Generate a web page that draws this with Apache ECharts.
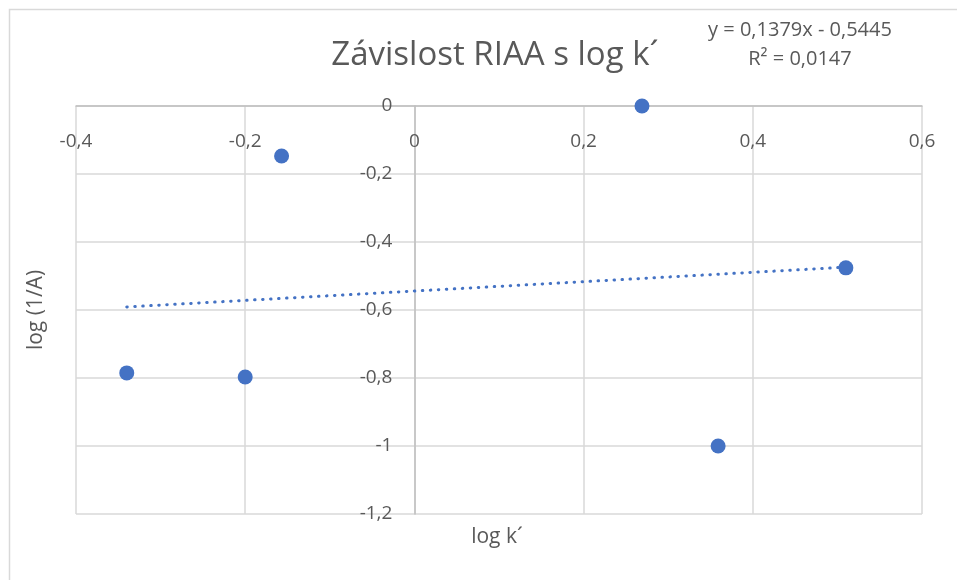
<!DOCTYPE html>
<html>
<head>
<meta charset="utf-8">
<script src="https://cdn.jsdelivr.net/npm/echarts@6/dist/echarts.min.js"></script>
<style>
  html, body { margin: 0; padding: 0; background: #fff; }
  #chart { width: 957px; height: 580px; }
</style>
</head>
<body>
<div id="chart"></div>
<script>
  var logK = [-0.34, -0.2, -0.157, 0.269, 0.359, 0.51];
  var logInvA = [-0.785, -0.797, -0.147, 0, -1.0, -0.476];
  // trendline end points (y = 0,1379x - 0,5445 at the data extremes)
  var trendX = [-0.34, 0.51];
  var trendY = [-0.591, -0.474];
  var xTicks = [-0.4, -0.2, 0, 0.2, 0.4, 0.6];
  var yTicks = [0, -0.2, -0.4, -0.6, -0.8, -1, -1.2];

  var font = "'Open Sans', 'Noto Sans', sans-serif";
  var textColor = "#595959";
  var gridLeft = 76, gridRight = 35;
  var gridWidth = 957 - gridLeft - gridRight;

  function fmt(v) {
    return String(Math.round(v * 10) / 10).replace(".", ",");
  }

  var xMin = xTicks[0], xMax = xTicks[xTicks.length - 1];
  // y axis sits where x = 0, so pull it inward from the left edge
  var yAxisOffset = -gridWidth * (0 - xMin) / (xMax - xMin);

  var chart = echarts.init(document.getElementById("chart"), null, { renderer: "canvas" });

  chart.setOption({
    backgroundColor: "#ffffff",
    animation: false,
    textStyle: { fontFamily: font },
    grid: { left: gridLeft, right: gridRight, top: 106, bottom: 66, show: false },
    xAxis: {
      type: "value",
      position: "top",
      min: xMin,
      max: xMax,
      interval: 0.2,
      axisLine: { onZero: false, lineStyle: { color: "#bfbfbf", width: 1.5 } },
      axisTick: { show: false },
      axisLabel: {
        inside: true,
        color: textColor, fontSize: 19, margin: 26, fontFamily: font,
        formatter: function (v) { return fmt(v); }
      },
      splitLine: { lineStyle: { color: "#d9d9d9", width: 1.5 } }
    },
    yAxis: {
      type: "value",
      position: "left",
      offset: yAxisOffset,
      min: yTicks[yTicks.length - 1],
      max: yTicks[0],
      interval: 0.2,
      axisLine: { show: true, onZero: false, lineStyle: { color: "#bfbfbf", width: 1.5 } },
      axisTick: { show: false },
      axisLabel: {
        color: textColor, fontSize: 19, margin: 22, fontFamily: font,
        padding: [3, 0, 0, 0],
        formatter: function (v) { return fmt(v); }
      },
      splitLine: { lineStyle: { color: "#d9d9d9", width: 1.5 } }
    },
    graphic: [
      {
        type: "rect", left: 7, top: 7, silent: true,
        shape: { width: 1000, height: 650 },
        style: { fill: "none", stroke: "#d9d9d9", lineWidth: 1.5 }
      },
      {
        type: "text", x: 495, y: 56,
        style: {
          text: "Závislost RIAA s log k´", fill: textColor,
          font: "33px " + font, align: "center", verticalAlign: "middle"
        }
      },
      {
        type: "text", x: 800, y: 30,
        style: {
          text: "y = 0,1379x - 0,5445", fill: textColor,
          font: "20px " + font, align: "center", verticalAlign: "middle"
        }
      },
      {
        type: "text", x: 800, y: 59,
        style: {
          text: "R² = 0,0147", fill: textColor,
          font: "20px " + font, align: "center", verticalAlign: "middle"
        }
      },
      {
        type: "text", x: 497, y: 537,
        style: {
          text: "log k´", fill: textColor,
          font: "21px " + font, align: "center", verticalAlign: "middle"
        }
      },
      {
        type: "text", x: 36, y: 310, rotation: Math.PI / 2,
        style: {
          text: "log (1/A)", fill: textColor,
          font: "21px " + font, align: "center", verticalAlign: "middle"
        }
      }
    ],
    series: [
      {
        type: "line",
        data: trendX.map(function (x, i) { return [x, trendY[i]]; }),
        showSymbol: false,
        lineStyle: { color: "#4472c4", width: 3, type: [0.5, 7.5], cap: "round" },
        z: 2
      },
      {
        type: "scatter",
        data: logK.map(function (x, i) { return [x, logInvA[i]]; }),
        symbol: "circle",
        symbolSize: 15,
        itemStyle: { color: "#4472c4", opacity: 1 },
        z: 3
      }
    ]
  });
</script>
</body>
</html>
